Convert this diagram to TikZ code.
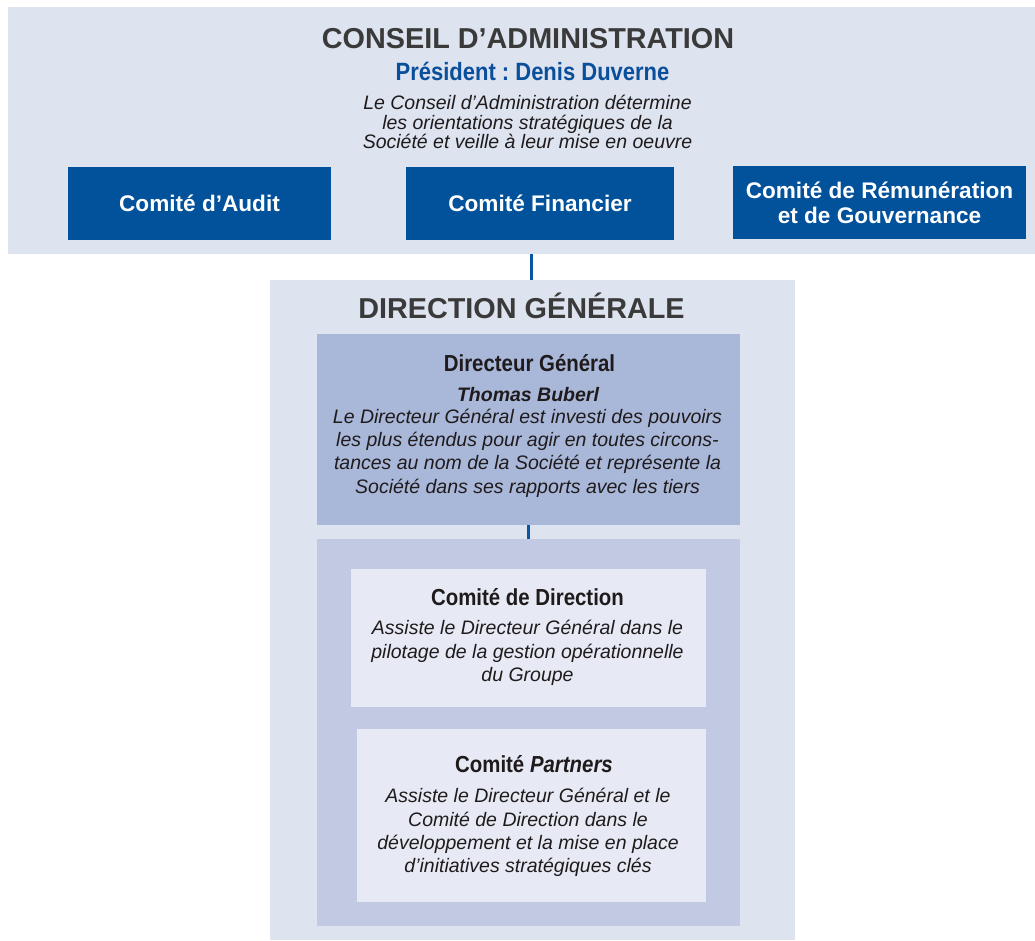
\documentclass[tikz,border=0pt]{standalone}
\usepackage{fontspec}
\setmainfont{Liberation Sans}
\newfontfamily\narrowfont[FakeStretch=0.88]{Liberation Sans}
\frenchspacing

\definecolor{bandbg}{HTML}{DDE3EF}
\definecolor{boardblue}{HTML}{02519B}
\definecolor{dgfill}{HTML}{A9B7D9}
\definecolor{groupfill}{HTML}{C2C9E3}
\definecolor{cardfill}{HTML}{E7EAF4}
\definecolor{headgray}{HTML}{3A3A3A}
\definecolor{bodytext}{HTML}{1F1B1C}
\definecolor{presblue}{HTML}{0A4F9B}
\definecolor{linkblue}{HTML}{0B56A4}

\begin{document}
\begin{tikzpicture}[x=1pt,y=-1pt,
  panel/.style={fill=#1, draw=none, inner sep=0, rectangle},
  committee/.style={panel=boardblue, text=white,
    font=\fontsize{22.6}{26}\selectfont\bfseries, align=center},
  heading/.style={inner sep=0, text=headgray,
    font=\fontsize{28.8}{32}\selectfont\bfseries},
  cardtitle/.style={inner sep=0, text=bodytext,
    font=\fontsize{23.2}{27}\selectfont\narrowfont\bfseries},
  blurb/.style={inner sep=0, text=bodytext, align=center,
    font=\fontsize{19.5}{23.3}\selectfont\itshape},
  link/.style={draw=linkblue, line width=3pt}
]
\useasboundingbox (0,0) rectangle (1035,940);

% ---- Board of directors band ----
\node[panel=bandbg, minimum width=1027, minimum height=247] (board) at (521.5,130.5) {};
\node[heading, anchor=base] (boardtitle) at (528,48) {CONSEIL D’ADMINISTRATION};
\node[inner sep=0, text=presblue, anchor=base,
      font=\fontsize{25}{29}\selectfont\narrowfont\bfseries] (president) at (532.5,80)
      {Président : Denis Duverne};
\node[blurb, font=\fontsize{19.5}{19.5}\selectfont\itshape] (boardtext) at (527.5,122)
      {Le Conseil d’Administration détermine\\
       les orientations stratégiques de la\\
       Société et veille à leur mise en oeuvre};

\node[committee, minimum width=263, minimum height=73] (audit) at (199.5,203.5) {Comité d’Audit};
\node[committee, minimum width=268, minimum height=73] (finance) at (540,203.5) {Comité Financier};
\node[committee, minimum width=293, minimum height=73] (remun) at (879.5,202.5)
      {Comité de Rémunération\\[-1pt]et de Gouvernance};

% ---- General management ----
\node[panel=bandbg, minimum width=525, minimum height=660] (mgmt) at (532.5,610) {};
\node[heading, anchor=base] (mgmttitle) at (521.5,318) {DIRECTION GÉNÉRALE};

\node[panel=dgfill, minimum width=423, minimum height=191] (ceo) at (528.5,429.5) {};
\node[cardtitle, anchor=base] (ceotitle) at (529.5,371) {Directeur Général};
\node[inner sep=0, text=bodytext, anchor=base,
      font=\fontsize{19.5}{23}\selectfont\bfseries\itshape] (ceoname) at (528,401) {Thomas Buberl};
\node[blurb] (ceotext) at (527.5,453)
      {Le Directeur Général est investi des pouvoirs\\
       les plus étendus pour agir en toutes circons-\\
       tances au nom de la Société et représente la\\
       Société dans ses rapports avec les tiers};

\node[panel=groupfill, minimum width=423, minimum height=387] (group) at (528.5,732.5) {};

\node[panel=cardfill, minimum width=355, minimum height=138] (comdir) at (528.5,638) {};
\node[cardtitle, anchor=base] (comdirtitle) at (527.5,605) {Comité de Direction};
\node[blurb] (comdirtext) at (527.5,653)
      {Assiste le Directeur Général dans le\\
       pilotage de la gestion opérationnelle\\
       du Groupe};

\node[panel=cardfill, minimum width=349, minimum height=173] (partners) at (531.5,815.5) {};
\node[cardtitle, anchor=base] (partnerstitle) at (534,772) {Comité \itshape Partners};
\node[blurb] (partnerstext) at (528,832.5)
      {Assiste le Directeur Général et le\\
       Comité de Direction dans le\\
       développement et la mise en place\\
       d’initiatives stratégiques clés};

% ---- Connectors ----
\draw[link] ([xshift=-1.5pt]mgmt.north) -- ([xshift=-1.5pt]mgmt.north |- board.south);
\draw[link] (ceo.south) -- (group.north);
\end{tikzpicture}
\end{document}
